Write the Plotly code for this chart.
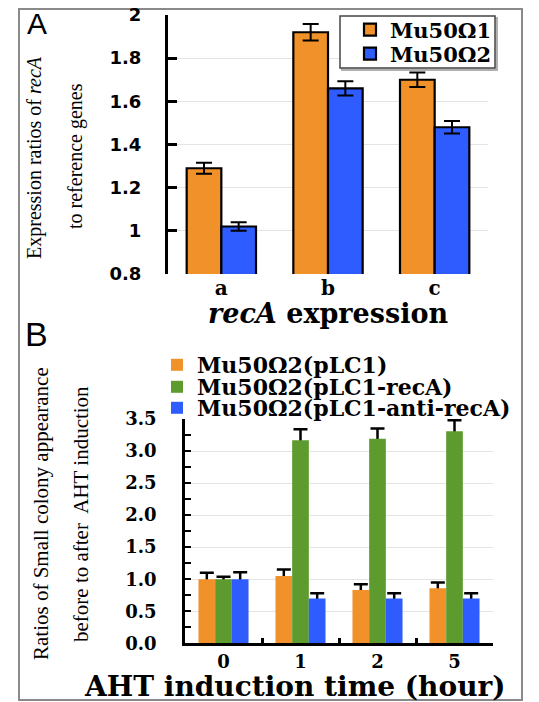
import plotly.graph_objects as go

# ---------------- Data ----------------
# Panel A
cats_a = ["a", "b", "c"]
mu1_vals = [1.29, 1.92, 1.70]
mu1_err = [0.025, 0.038, 0.034]
mu2_vals = [1.02, 1.66, 1.48]
mu2_err = [0.02, 0.033, 0.029]
series_a_names = ["Mu50Ω1", "Mu50Ω2"]

# Panel B
cats_b = ["0", "1", "2", "5"]
plc1_vals = [1.00, 1.05, 0.83, 0.86]
plc1_err = [0.10, 0.10, 0.09, 0.09]
reca_vals = [1.00, 3.17, 3.19, 3.31]
reca_err = [0.04, 0.17, 0.16, 0.17]
anti_vals = [1.00, 0.70, 0.70, 0.70]
anti_err = [0.11, 0.08, 0.08, 0.08]
series_b_names = ["Mu50Ω2(pLC1)", "Mu50Ω2(pLC1-recA)", "Mu50Ω2(pLC1-anti-recA)"]

ORANGE = "#F0912A"
BLUE = "#2F5CFF"
GREEN = "#5E9B2F"

SERIF = "DejaVu Serif"
SANS = "DejaVu Sans"
TIMES = "Liberation Serif"

# the page body has an 8px margin: the figure starts at (8, 8) in the window
OFF = 8
W, H = 539 - OFF, 702 - OFF

def px_x(p):
    return (p - OFF) / W

def px_y(p):
    return 1 - (p - OFF) / H

fig = go.Figure()

# ---------------- Panel A ----------------
for name, vals, errs, col, og, lg in [
    (series_a_names[0], mu1_vals, mu1_err, ORANGE, "a1", "legend"),
    (series_a_names[1], mu2_vals, mu2_err, BLUE, "a2", "legend2"),
]:
    fig.add_trace(go.Bar(
        x=cats_a, y=vals, name=name, legend=lg,
        offsetgroup=og,
        marker=dict(color=col, line=dict(color="black", width=2.2)),
        error_y=dict(type="data", array=errs, visible=True,
                     color="black", thickness=2, width=8),
        xaxis="x", yaxis="y",
    ))

# ---------------- Panel B ----------------
for name, vals, errs, col, og, lg in [
    (series_b_names[0], plc1_vals, plc1_err, ORANGE, "b1", "legend3"),
    (series_b_names[1], reca_vals, reca_err, GREEN, "b2", "legend4"),
    (series_b_names[2], anti_vals, anti_err, BLUE, "b3", "legend5"),
]:
    # error bars drawn underneath the bars (only upper half visible)
    fig.add_trace(go.Bar(
        x=cats_b, y=vals, showlegend=False, hoverinfo="skip",
        offsetgroup=og,
        marker=dict(color="rgba(0,0,0,0)", line=dict(width=0)),
        error_y=dict(type="data", array=errs, visible=True,
                     color="black", thickness=2.5, width=7),
        xaxis="x2", yaxis="y2",
    ))
    fig.add_trace(go.Bar(
        x=cats_b, y=vals, name=name, legend=lg,
        offsetgroup=og,
        marker=dict(color=col, line=dict(width=0)),
        xaxis="x2", yaxis="y2",
    ))

legA_font = dict(family=SERIF, size=21, color="black", weight="bold")
legB_font = dict(family=SERIF, size=22, color="black", weight="bold")

def leg(xp, yp, font):
    return dict(x=px_x(xp), y=px_y(yp), xanchor="left", yanchor="middle",
                bgcolor="rgba(0,0,0,0)", borderwidth=0, font=font,
                tracegroupgap=0, itemwidth=30)

fig.update_layout(
    width=W, height=H,
    margin=dict(l=0, r=0, t=0, b=0, autoexpand=False),
    paper_bgcolor="white", plot_bgcolor="white",
    font=dict(family=SERIF, color="black"),
    barmode="group", bargap=0.35, bargroupgap=0,
    showlegend=True,
    xaxis=dict(
        domain=[px_x(168), px_x(488)], anchor="y",
        type="category", showline=False, showgrid=False, zeroline=False,
        ticks="", tickfont=dict(family=SERIF, size=20, color="black", weight="bold"),
    ),
    yaxis=dict(
        domain=[px_y(274), px_y(15)], anchor="x",
        range=[0.8, 2.0], dtick=0.2,
        showline=True, linecolor="black", linewidth=3,
        ticks="inside", ticklen=9, tickwidth=2.5, tickcolor="black",
        showgrid=True, gridcolor="#e4e4e4", gridwidth=1, zeroline=False,
        tickfont=dict(family=SANS, size=18, color="black", weight="bold"),
        ticklabelstandoff=20, ticklabeloverflow="allow",
    ),
    xaxis2=dict(
        domain=[px_x(185), px_x(493)], anchor="y2",
        type="category", showline=True, linecolor="black", linewidth=2.5,
        ticks="inside", tickson="boundaries", ticklen=6, tickwidth=2.5, tickcolor="black",
        showgrid=False, zeroline=False,
        tickfont=dict(family=SERIF, size=18, color="black", weight="bold"),
    ),
    yaxis2=dict(
        domain=[px_y(643.3), px_y(419)], anchor="x2",
        range=[0, 3.5], dtick=0.5, tickformat=".1f",
        showline=True, linecolor="black", linewidth=2.5,
        ticks="inside", ticklen=6, tickwidth=2, tickcolor="black",
        minor=dict(dtick=0.25, ticks="inside", ticklen=6, tickwidth=2, tickcolor="black", showgrid=False),
        showgrid=True, gridcolor="#e4e4e4", gridwidth=1, zeroline=False,
        tickfont=dict(family=SERIF, size=18, color="black", weight="bold"),
        ticklabelstandoff=22, ticklabeloverflow="allow",
    ),
    legend=leg(350, 30, legA_font),
    legend2=leg(350, 54, legA_font),
    legend3=leg(157, 365, legB_font),
    legend4=leg(157, 387, legB_font),
    legend5=leg(157, 408, legB_font),
)

annotations = [
    dict(text="A", x=px_x(37), y=px_y(24), font=dict(family="Liberation Sans", size=30, color="black")),
    dict(text="B", x=px_x(36), y=px_y(334), font=dict(family="Liberation Sans", size=34, color="black")),
    dict(text="Expression ratios of <i>recA</i>", x=px_x(34), y=px_y(158), textangle=-90,
         font=dict(family=TIMES, size=20, color="black")),
    dict(text="to reference genes", x=px_x(76), y=px_y(156), textangle=-90,
         font=dict(family=TIMES, size=20, color="black")),
    dict(text="<i>recA</i> expression", x=px_x(328), y=px_y(313),
         font=dict(family=SERIF, size=27, color="black", weight="bold")),
    dict(text="Ratios of Small colony appearance", x=px_x(41), y=px_y(514), textangle=-90,
         font=dict(family=TIMES, size=21, color="black")),
    dict(text="before to after  AHT induction", x=px_x(81), y=px_y(514), textangle=-90,
         font=dict(family=TIMES, size=21, color="black")),
    dict(text="AHT induction time (hour)", x=px_x(295), y=px_y(686),
         font=dict(family=SERIF, size=28, color="black", weight="bold")),
]
for a in annotations:
    a.update(xref="paper", yref="paper", showarrow=False, xanchor="center", yanchor="middle")
fig.update_layout(annotations=annotations)

# frame around the figure
fig.add_shape(type="rect", xref="paper", yref="paper",
              x0=px_x(19), x1=px_x(522), y0=px_y(700), y1=px_y(9),
              line=dict(color="#8a8a8a", width=2), fillcolor="rgba(0,0,0,0)", layer="below")
# legend box of panel A (shadow + box)
fig.add_shape(type="rect", xref="paper", yref="paper",
              x0=px_x(342), x1=px_x(497), y0=px_y(70), y1=px_y(18),
              line=dict(color="#b0b0b0", width=2), fillcolor="#d8d8d8", layer="above")
fig.add_shape(type="rect", xref="paper", yref="paper",
              x0=px_x(340), x1=px_x(495), y0=px_y(68), y1=px_y(16),
              line=dict(color="#444444", width=1.5), fillcolor="white", layer="above")

fig.write_html("out.html")
